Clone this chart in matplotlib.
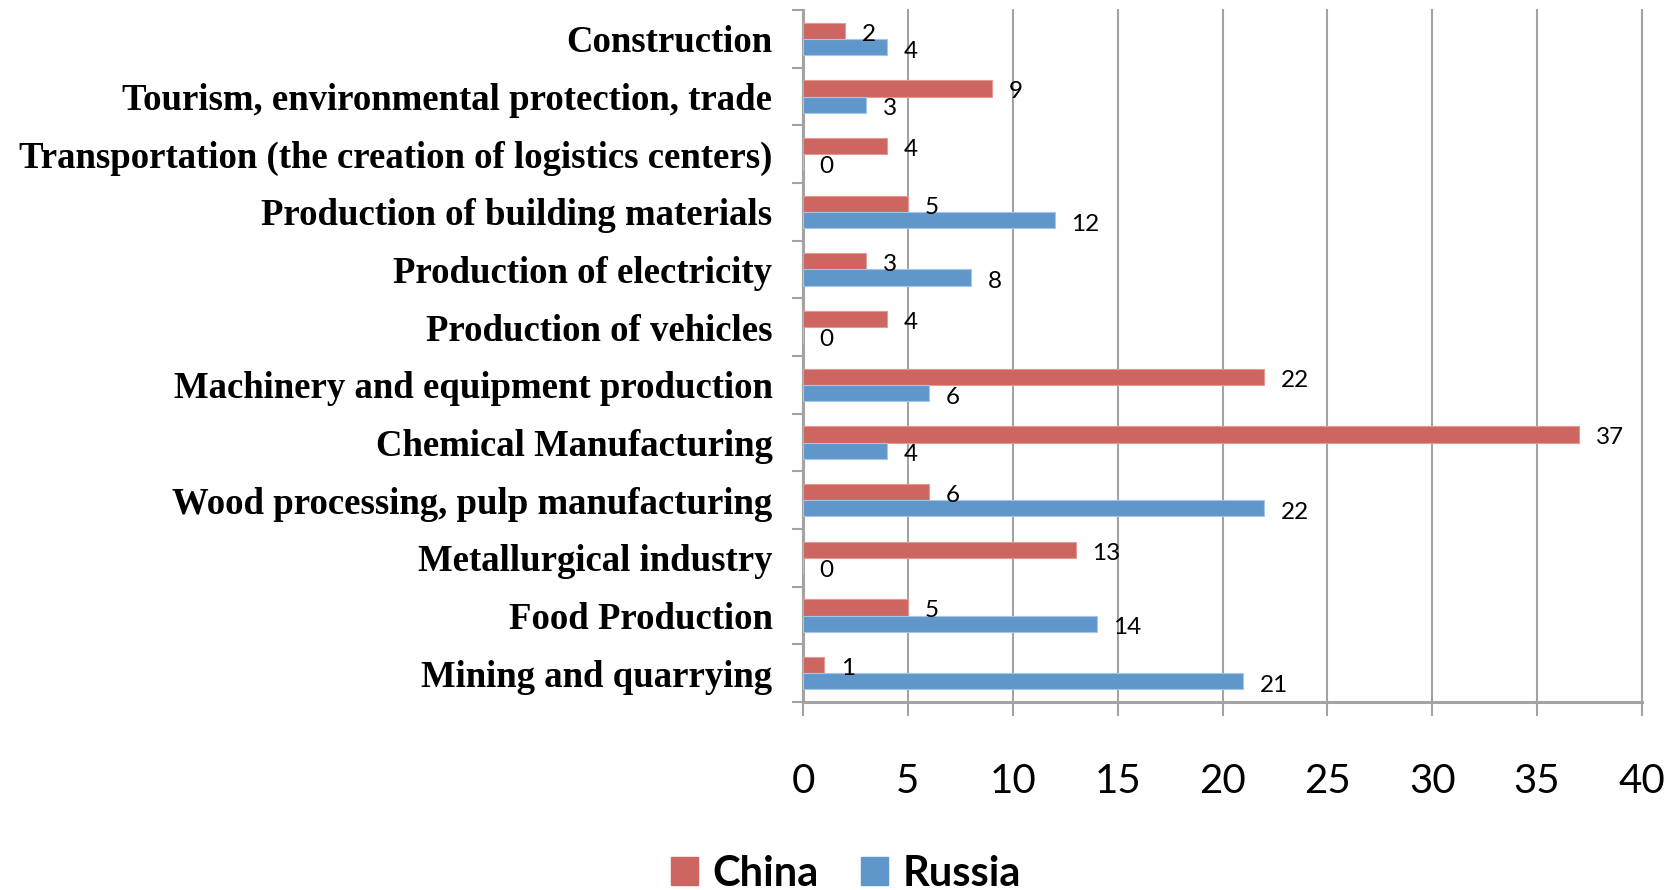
import numpy as np
import matplotlib.pyplot as plt
from matplotlib.patches import Patch

# categories listed bottom -> top
categories = ['Mining and quarrying', 'Food Production', 'Metallurgical industry',
              'Wood processing, pulp manufacturing', 'Chemical Manufacturing',
              'Machinery and equipment production', 'Production of vehicles',
              'Production of electricity', 'Production of building materials',
              'Transportation (the creation of logistics centers)',
              'Tourism, environmental protection, trade', 'Construction']
china = [1, 5, 13, 6, 37, 22, 4, 3, 5, 4, 9, 2]
russia = [21, 14, 0, 22, 4, 6, 0, 8, 12, 0, 3, 4]
xticks = [0, 5, 10, 15, 20, 25, 30, 35, 40]

red = '#CD6560'
blue = '#6097CB'
gray = '#A3A3A3'

fig = plt.figure(figsize=(16.75, 8.9), dpi=100)
ax = fig.add_axes([803/1675, 1-702/890, 839/1675, 692/890])

y = np.arange(len(categories))
h = 0.28
ax.barh(y + h/2, china, height=h, color=red, edgecolor='#E29A95', linewidth=0.8, zorder=3)
ax.barh(y - h/2, russia, height=h, color=blue, edgecolor='#A6C4E4', linewidth=0.8, zorder=3)

# data labels
for yi, v in zip(y, china):
    ax.annotate(str(v), xy=(v, yi + h/2), xytext=(12, -2.5), textcoords='offset points',
                ha='left', va='center', fontsize=17.5, family='Lato', zorder=4)
for yi, v in zip(y, russia):
    ax.annotate(str(v), xy=(v, yi - h/2), xytext=(12, -3), textcoords='offset points',
                ha='left', va='center', fontsize=17.5, family='Lato', zorder=4)

ax.set_xlim(0, 40)
ax.set_ylim(-0.5, len(categories) - 0.5)

# x axis
ax.set_xticks(xticks)
ax.set_xticklabels([str(t) for t in xticks], fontsize=29, family='Lato')
ax.tick_params(axis='x', length=10, width=1.5, color=gray, pad=34)
ax.xaxis.grid(True, color=gray, linewidth=1.5, zorder=0)
for gl in ax.get_xgridlines():
    gl.set_clip_on(False)

# y axis: ticks at boundaries, labels at centers
ax.set_yticks(np.arange(-0.5, len(categories), 1.0))
ax.set_yticklabels([])
ax.set_yticks(y, minor=True)
ax.set_yticklabels(categories, minor=True, fontsize=26.5, fontweight='bold',
                   family='Liberation Serif')
ax.tick_params(axis='y', which='major', length=8, width=1.5, color=gray)
ax.tick_params(axis='y', which='minor', length=0, pad=22)

for s in ['top', 'right']:
    ax.spines[s].set_visible(False)
for s in ['left', 'bottom']:
    ax.spines[s].set_color(gray)
    ax.spines[s].set_linewidth(2.2)

handles = [Patch(color=red, label='China'), Patch(color=blue, label='Russia')]
fig.legend(handles=handles, loc='lower center', bbox_to_anchor=(846/1675, -0.022), ncol=2,
           frameon=False, prop={'family': 'Lato', 'weight': 'bold', 'size': 30},
           handlelength=0.65, handleheight=0.65, handletextpad=0.35, columnspacing=1.0,
           borderaxespad=0)

fig.savefig('out.png', dpi=100)
